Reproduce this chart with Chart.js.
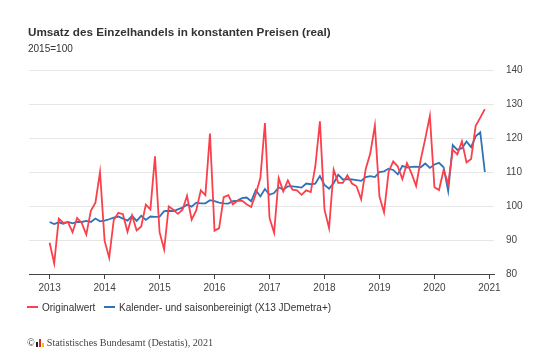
<!DOCTYPE html>
<html>
<head>
<meta charset="utf-8">
<script src="https://cdn.jsdelivr.net/npm/chart.js@4"></script>
<style>
  body { margin: 0; background: #fff; font-family: "Liberation Sans", Arial, sans-serif; }
  #wrap { position: relative; width: 550px; height: 358px; }
  #chart { position: absolute; left: 0; top: 0; }
  .t { position: absolute; color: #333; white-space: nowrap; }
  #title { left: 28px; top: 25px; font-size: 11.7px; font-weight: bold; }
  #sub { left: 28px; top: 43px; font-size: 10px; }
  .leg { position: absolute; top: 302px; font-size: 10px; color: #333; white-space: nowrap; }
  .leg i { display: inline-block; width: 11px; height: 2px; vertical-align: middle; margin-right: 4px; margin-top: -2px; }
  #foot { left: 27px; top: 337px; font-family: "Liberation Serif", serif; font-size: 10.2px; color: #444; }
  .logo { display: inline-block; width: 9px; height: 8px; vertical-align: -1px; margin: 0 2px 0 1px; position: relative; }
  .logo b { position: absolute; bottom: 0; width: 2px; }
</style>
</head>
<body>
<div id="wrap">
  <canvas id="chart" width="550" height="358"></canvas>
  <div class="t" id="title">Umsatz des Einzelhandels in konstanten Preisen (real)</div>
  <div class="t" id="sub">2015=100</div>
  <div class="leg" style="left:27px"><i style="background:#f9404b"></i>Originalwert</div>
  <div class="leg" style="left:104px"><i style="background:#2f72b8"></i>Kalender- und saisonbereinigt (X13 JDemetra+)</div>
  <div class="t" id="foot">©<span class="logo"><b style="left:0;height:5px;background:#222"></b><b style="left:3px;height:8px;background:#d9262b"></b><b style="left:6px;height:4px;background:#f2c100"></b></span>Statistisches Bundesamt (Destatis), 2021</div>
</div>
<script>
const years = ['2013', '2014', '2015', '2016', '2017', '2018', '2019', '2020', '2021'];
const yTicks = [80, 90, 100, 110, 120, 130, 140];

// monthly values Jan 2013 - Dec 2020
const original = [
  89.2, 83.1, 96.3, 95.0, 95.3, 92.3, 96.5, 95.0, 91.6, 98.6, 101.0, 110.0,
  89.8, 84.8, 95.9, 98.0, 97.6, 92.4, 97.2, 92.8, 94.0, 100.4, 99.0, 114.6,
  92.3, 87.2, 99.9, 98.9, 97.7, 98.9, 103.0, 96.0, 98.7, 104.6, 103.2, 121.3,
  92.7, 93.5, 102.6, 103.2, 100.5, 101.5, 101.6, 100.5, 99.7, 103.5, 108.2, 124.4,
  96.5, 92.1, 108.2, 104.3, 107.5, 104.8, 104.6, 103.3, 104.6, 104.1, 111.7, 124.9,
  98.9, 93.5, 110.7, 106.8, 106.8, 109.0, 106.6, 105.8, 102.0, 110.9, 115.5, 123.7,
  102.8, 98.1, 110.1, 113.1, 111.6, 107.9, 112.6, 109.6, 105.9, 113.6, 119.8, 126.5,
  105.5, 104.7, 110.6, 106.5, 116.5, 115.2, 119.0, 112.8, 113.8, 123.6, 126.0, 128.5
];
const adjusted = [
  95.3, 94.7, 95.2, 94.8, 95.3, 94.9, 95.3, 95.3, 95.6, 95.3, 96.3, 95.5,
  95.7, 96.1, 96.6, 96.9, 96.3, 95.7, 97.1, 95.6, 97.1, 95.9, 96.9, 96.8,
  96.9, 98.5, 98.6, 98.5, 99.0, 99.5, 100.4, 99.8, 101.0, 100.8, 100.8, 101.7,
  101.4, 101.0, 100.8, 100.7, 101.4, 101.6, 102.3, 102.5, 101.4, 104.7, 102.8, 105.0,
  103.3, 103.8, 105.5, 104.8, 105.8, 105.8, 105.6, 105.4, 106.6, 106.4, 106.6, 108.8,
  106.2, 105.1, 106.7, 109.2, 107.8, 107.9, 107.8, 107.6, 107.4, 108.5, 108.8, 108.5,
  110.0, 110.2, 111.0, 110.6, 109.3, 111.8, 111.3, 111.5, 111.6, 111.4, 112.5, 111.2,
  112.2, 112.7, 111.4, 104.4, 117.9, 116.5, 117.0, 119.0, 117.3, 120.5, 121.7, 110.0
];

const toPoints = arr => arr.map((v, i) => ({ x: i, y: v }));

new Chart(document.getElementById('chart'), {
  type: 'line',
  data: {
    datasets: [{
      label: 'Originalwert',
      data: toPoints(original),
      borderColor: '#f9404b',
      borderWidth: 1.8,
      pointRadius: 0,
      tension: 0
    }, {
      label: 'Kalender- und saisonbereinigt (X13 JDemetra+)',
      data: toPoints(adjusted),
      borderColor: '#2f72b8',
      borderWidth: 1.8,
      pointRadius: 0,
      tension: 0
    }]
  },
  options: {
    responsive: false,
    animation: false,
    layout: { padding: { left: 29, top: 70, right: 0, bottom: 64 } },
    plugins: { legend: { display: false }, tooltip: { enabled: false } },
    scales: {
      x: {
        type: 'linear',
        min: -4.5,
        max: 97,
        afterBuildTicks: axis => { axis.ticks = years.map((y, i) => ({ value: i * 12 })); },
        afterFit: axis => { axis.height = 20; },
        grid: { drawOnChartArea: false, drawTicks: true, tickLength: 5, color: '#444' },
        border: { color: '#444', width: 1 },
        ticks: {
          autoSkip: false,
          maxRotation: 0,
          padding: 3,
          color: '#444',
          font: { family: 'Liberation Sans', size: 10 },
          callback: v => years[v / 12]
        }
      },
      y: {
        position: 'right',
        min: 80,
        max: 140,
        afterBuildTicks: axis => { axis.ticks = yTicks.map(v => ({ value: v })); },
        afterFit: axis => { axis.width = 56; },
        grid: { color: '#e6e6e6', drawTicks: false },
        border: { display: false },
        ticks: {
          padding: 12,
          color: '#444',
          font: { family: 'Liberation Sans', size: 10 }
        }
      }
    }
  }
});
</script>
</body>
</html>
